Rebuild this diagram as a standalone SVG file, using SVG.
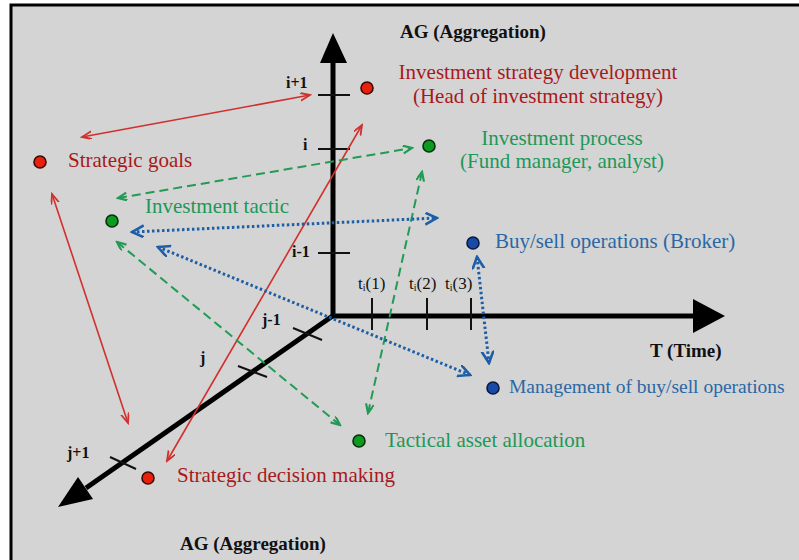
<svg xmlns="http://www.w3.org/2000/svg" width="799" height="560" viewBox="0 0 799 560">
<style>
.lbl{font-family:"Liberation Serif","Times New Roman",serif;font-size:21px}
.red{fill:#a8191c}
.grn{fill:#1c9858}
.blu{fill:#2a68a4}
.ax{font-family:"Liberation Serif","Times New Roman",serif;font-size:19px;font-weight:bold;fill:#111}
.tk{font-family:"Liberation Serif","Times New Roman",serif;font-size:16px;font-weight:bold;fill:#111}
.ti{font-family:"Liberation Serif","Times New Roman",serif;font-size:17px;fill:#111}
.axis{stroke:#000;stroke-width:5;fill:none}
.tick{stroke:#111;stroke-width:2;fill:none}
.cr{stroke:#d0302e;stroke-width:1.6;fill:none}
.cg{stroke:#239a55;stroke-width:2;stroke-dasharray:9 5;fill:none}
.cb{stroke:#1d5ea6;stroke-width:3;stroke-dasharray:2.5 2.5;fill:none}
.dr{fill:#e8200c;stroke:#3a0a06;stroke-width:1.6}
.dg{fill:#0c9a20;stroke:#06300a;stroke-width:1.6}
.db{fill:#1a4aa8;stroke:#0a1a40;stroke-width:1.6}
</style>
<defs>
<marker id="ar" markerUnits="userSpaceOnUse" markerWidth="12" markerHeight="10" refX="10" refY="4" orient="auto-start-reverse"><path d="M0,0 L10,4 L0,8" fill="none" stroke="#d0302e" stroke-width="1.8"/></marker>
<marker id="ag" markerUnits="userSpaceOnUse" markerWidth="12" markerHeight="10" refX="10" refY="4" orient="auto-start-reverse"><path d="M1,0 L10,4 L1,8" fill="none" stroke="#239a55" stroke-width="2.2"/></marker>
<marker id="ab" markerUnits="userSpaceOnUse" markerWidth="14" markerHeight="14" refX="12" refY="6" orient="auto-start-reverse"><path d="M0,0 L12,6 L0,12" fill="none" stroke="#1d5ea6" stroke-width="2.6"/></marker>
</defs>
<rect x="0" y="0" width="799" height="560" fill="#ffffff"/>
<rect x="11" y="5" width="800" height="570" fill="#d4d4d4" stroke="#000" stroke-width="3"/>

<g id="axes">
<line class="axis" x1="333" y1="316" x2="333" y2="60"/>
<polygon points="333,33 320,63 347,63" fill="#000"/>
<line class="axis" x1="331" y1="316" x2="697" y2="316"/>
<polygon points="725,316 693,299 693,333" fill="#000"/>
<line class="axis" x1="334" y1="315" x2="86" y2="488"/>
<polygon points="58,507 78,477 93,499" fill="#000"/>
<line class="tick" x1="318" y1="95" x2="350" y2="95"/>
<line class="tick" x1="318" y1="149" x2="350" y2="149"/>
<line class="tick" x1="318" y1="253" x2="350" y2="253"/>
<line class="tick" x1="372" y1="298" x2="372" y2="330"/>
<line class="tick" x1="427" y1="298" x2="427" y2="330"/>
<line class="tick" x1="471" y1="298" x2="471" y2="330"/>
<line class="tick" x1="293" y1="328" x2="322" y2="340"/>
<line class="tick" x1="238" y1="366" x2="267" y2="377"/>
<line class="tick" x1="110" y1="457" x2="136" y2="469"/>
<text class="tk" x="286" y="88">i+1</text>
<text class="tk" x="303" y="150">i</text>
<text class="tk" x="292" y="257">i-1</text>
<text class="tk" x="262" y="325">j-1</text>
<text class="tk" x="200" y="363">j</text>
<text class="tk" x="67" y="458">j+1</text>
<text class="ti" x="358" y="289">t<tspan font-size="10" dy="2">i</tspan><tspan dy="-2">(1)</tspan></text>
<text class="ti" x="409" y="289">t<tspan font-size="10" dy="2">i</tspan><tspan dy="-2">(2)</tspan></text>
<text class="ti" x="445" y="289">t<tspan font-size="10" dy="2">i</tspan><tspan dy="-2">(3)</tspan></text>
<text class="ax" x="400" y="38">AG (Aggregation)</text>
<text class="ax" x="650" y="357">T (Time)</text>
<text class="ax" x="180" y="550">AG (Aggregation)</text>
</g>

<g id="connectors">
<line class="cr" x1="82" y1="137" x2="310" y2="95" marker-start="url(#ar)" marker-end="url(#ar)"/>
<line class="cr" x1="167" y1="461" x2="362" y2="125" marker-start="url(#ar)" marker-end="url(#ar)"/>
<line class="cr" x1="52" y1="194" x2="128" y2="423" marker-start="url(#ar)" marker-end="url(#ar)"/>
<line class="cg" x1="118" y1="198" x2="412" y2="148" marker-start="url(#ag)" marker-end="url(#ag)"/>
<line class="cg" x1="117" y1="242" x2="340" y2="425" marker-start="url(#ag)" marker-end="url(#ag)"/>
<line class="cg" x1="422" y1="172" x2="368" y2="413" marker-start="url(#ag)" marker-end="url(#ag)"/>
<line class="cb" x1="132" y1="232" x2="437" y2="218" marker-start="url(#ab)" marker-end="url(#ab)"/>
<line class="cb" x1="158" y1="247" x2="470" y2="375" marker-start="url(#ab)" marker-end="url(#ab)"/>
<line class="cb" x1="477" y1="257" x2="489" y2="363" marker-start="url(#ab)" marker-end="url(#ab)"/>
</g>

<g id="n-strategy-dev">
<circle class="dr" cx="367" cy="88" r="6"/>
<text class="lbl red" x="538" y="79" text-anchor="middle">Investment strategy development</text>
<text class="lbl red" x="538" y="103" text-anchor="middle">(Head of investment strategy)</text>
</g>
<g id="n-process">
<circle class="dg" cx="429" cy="146" r="6"/>
<text class="lbl grn" x="562" y="145" text-anchor="middle">Investment process</text>
<text class="lbl grn" x="562" y="168" text-anchor="middle">(Fund manager, analyst)</text>
</g>
<g id="n-goals">
<circle class="dr" cx="40" cy="162" r="6"/>
<text class="lbl red" x="68" y="167">Strategic goals</text>
</g>
<g id="n-tactic">
<circle class="dg" cx="112" cy="221" r="6"/>
<text class="lbl grn" x="145" y="213">Investment tactic</text>
</g>
<g id="n-buysell">
<circle class="db" cx="473" cy="243" r="6"/>
<text class="lbl blu" x="495" y="248">Buy/sell operations (Broker)</text>
</g>
<g id="n-management">
<circle class="db" cx="493" cy="388" r="6"/>
<text class="lbl blu" x="509" y="393" style="font-size:19.5px">Management of buy/sell operations</text>
</g>
<g id="n-tactical">
<circle class="dg" cx="359" cy="441" r="6"/>
<text class="lbl grn" x="385" y="447">Tactical asset allocation</text>
</g>
<g id="n-decision">
<circle class="dr" cx="148" cy="478" r="6"/>
<text class="lbl red" x="177" y="482">Strategic decision making</text>
</g>
</svg>
